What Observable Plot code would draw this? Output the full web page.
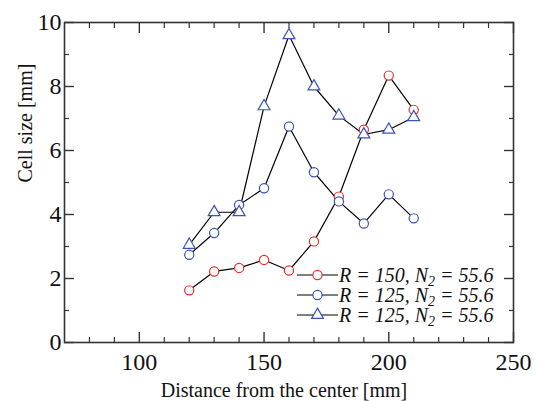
<!DOCTYPE html>
<html>
<head>
<meta charset="utf-8">
<script src="https://cdn.jsdelivr.net/npm/d3@7"></script>
<script src="https://cdn.jsdelivr.net/npm/@observablehq/plot@0.6"></script>
<style>
  html, body { margin: 0; padding: 0; background: #fff; }
  #wrap { position: relative; width: 538px; height: 401px; }
  #wrap text { font-family: "Liberation Serif", "Times New Roman", serif !important; }
  #legend { position: absolute; left: 0; top: 0; }
</style>
</head>
<body>
<div id="wrap"></div>
<script>
// Data (mm)
const distance = [120, 130, 140, 150, 160, 170, 180, 190, 200, 210];
const r150 = [1.63, 2.22, 2.33, 2.58, 2.25, 3.16, 4.56, 6.65, 8.34, 7.27];
const r125circle = [2.74, 3.42, 4.30, 4.82, 6.75, 5.32, 4.41, 3.72, 4.63, 3.88];
const r125triangle = [3.05, 4.07, 4.07, 7.38, 9.60, 8.00, 7.09, 6.50, 6.65, 7.04];

const xMajor = [100, 150, 200, 250];
const xMinor = [80, 90, 110, 120, 130, 140, 160, 170, 180, 190, 210, 220, 230, 240];
const yMajor = [0, 2, 4, 6, 8, 10];
const yMinor = [1, 3, 5, 7, 9];

const seriesNames = ["R = 150", "R = 125", "R = 125"];
const seriesN2 = ["55.6", "55.6", "55.6"];
const seriesColors = ["#ee2b2b", "#3b52b4", "#3b52b4"];
const seriesSymbols = ["circle", "circle", "triangle"];

const seriesValues = [r150, r125circle, r125triangle];
const rows = seriesValues.flatMap((vals, s) =>
  vals.map((v, i) => ({series: s, x: distance[i], y: v})));

const serif = "'Liberation Serif', 'Times New Roman', serif";
const axisColor = "#333";
const blank = () => "";

function ticksX(values, anchor, len, sw) {
  return Plot.axisX(values, {anchor, tickSize: len, dy: anchor === "bottom" ? -len : len,
    tickFormat: blank, stroke: axisColor, strokeWidth: sw, label: null});
}
function ticksY(values, anchor, len, sw) {
  return Plot.axisY(values, {anchor, tickSize: len, dx: anchor === "left" ? len : -len,
    tickFormat: blank, stroke: axisColor, strokeWidth: sw, label: null});
}

const marks = [
  Plot.frame({stroke: axisColor, strokeWidth: 1.6}),
  ticksX(xMajor, "bottom", 10, 1.4),
  ticksX(xMinor, "bottom", 5, 1.2),
  ticksX(xMajor, "top", 10, 1.4),
  ticksX(xMinor, "top", 5, 1.2),
  ticksY(yMajor, "left", 10, 1.4),
  ticksY(yMinor, "left", 5, 1.2),
  ticksY(yMajor, "right", 10, 1.4),
  ticksY(yMinor, "right", 5, 1.2),
  Plot.axisX(xMajor, {anchor: "bottom", tickSize: 0, tickPadding: 10, fontSize: 24, fontFamily: serif, fill: "#111", label: null}),
  Plot.axisY(yMajor, {anchor: "left", tickSize: 0, tickPadding: 3, fontSize: 24, fontFamily: serif, fill: "#111", label: null}),
  Plot.text(["Distance from the center [mm]"], {frameAnchor: "bottom", lineAnchor: "middle", dy: 48, fontSize: 20, fontFamily: serif, fill: "#111", dx: -5}),
  Plot.text(["Cell size [mm]"], {frameAnchor: "left", rotate: -90, dx: -39, fontSize: 20, fontFamily: serif, fill: "#111"}),
  Plot.line(rows, {x: "x", y: "y", z: "series", stroke: "#000", strokeWidth: 1.2}),
  Plot.dot(rows.filter(d => seriesSymbols[d.series] === "circle"), {
    x: "x", y: "y", r: 4.6, symbol: "circle", fill: "#fff",
    stroke: d => seriesColors[d.series], strokeWidth: 1.2
  }),
  Plot.dot(rows.filter(d => seriesSymbols[d.series] === "triangle"), {
    x: "x", y: "y", r: 4.4, symbol: "triangle", fill: "#fff",
    stroke: d => seriesColors[d.series], strokeWidth: 1.2
  })
];

const chart = Plot.plot({
  width: 538,
  height: 401,
  marginLeft: 64,
  marginRight: 25,
  marginTop: 22,
  marginBottom: 59,
  style: {fontFamily: serif, background: "#fff", color: "#111"},
  x: {domain: [70, 250]},
  y: {domain: [0, 10]},
  marks
});

const wrap = document.getElementById("wrap");
wrap.appendChild(chart);

// Legend overlay (inside plot area, bottom-right)
const ns = "http://www.w3.org/2000/svg";
const leg = document.createElementNS(ns, "svg");
leg.setAttribute("id", "legend");
leg.setAttribute("width", 538);
leg.setAttribute("height", 401);
leg.style.fontFamily = serif;
const legX0 = 297, legX1 = 338, legY0 = 275, legStep = 20;
seriesNames.forEach((name, i) => {
  const y = legY0 + i * legStep;
  const line = document.createElementNS(ns, "line");
  line.setAttribute("x1", legX0); line.setAttribute("x2", legX1);
  line.setAttribute("y1", y); line.setAttribute("y2", y);
  line.setAttribute("stroke", "#000"); line.setAttribute("stroke-width", 1.2);
  leg.appendChild(line);
  const cx = (legX0 + legX1) / 2;
  if (seriesSymbols[i] === "circle") {
    const c = document.createElementNS(ns, "circle");
    c.setAttribute("cx", cx); c.setAttribute("cy", y); c.setAttribute("r", 4.6);
    c.setAttribute("fill", "#fff"); c.setAttribute("stroke", seriesColors[i]); c.setAttribute("stroke-width", 1.2);
    leg.appendChild(c);
  } else {
    const p = document.createElementNS(ns, "path");
    p.setAttribute("d", d3.symbol(d3.symbolTriangle, Math.PI * 4.4 * 4.4)());
    p.setAttribute("transform", `translate(${cx},${y})`);
    p.setAttribute("fill", "#fff"); p.setAttribute("stroke", seriesColors[i]); p.setAttribute("stroke-width", 1.2);
    leg.appendChild(p);
  }
  const t = document.createElementNS(ns, "text");
  t.setAttribute("x", legX1 + 1); t.setAttribute("y", y);
  t.setAttribute("dy", "0.35em");
  t.setAttribute("font-size", 20);
  t.setAttribute("font-style", "italic");
  t.setAttribute("fill", "#111");
  const [rl, rv] = name.split(" = ");
  t.innerHTML = `<tspan>${rl} = ${rv}, N</tspan><tspan font-size="14" dy="4">2</tspan><tspan dy="-4"> = ${seriesN2[i]}</tspan>`;
  leg.appendChild(t);
});
wrap.appendChild(leg);
</script>
</body>
</html>
